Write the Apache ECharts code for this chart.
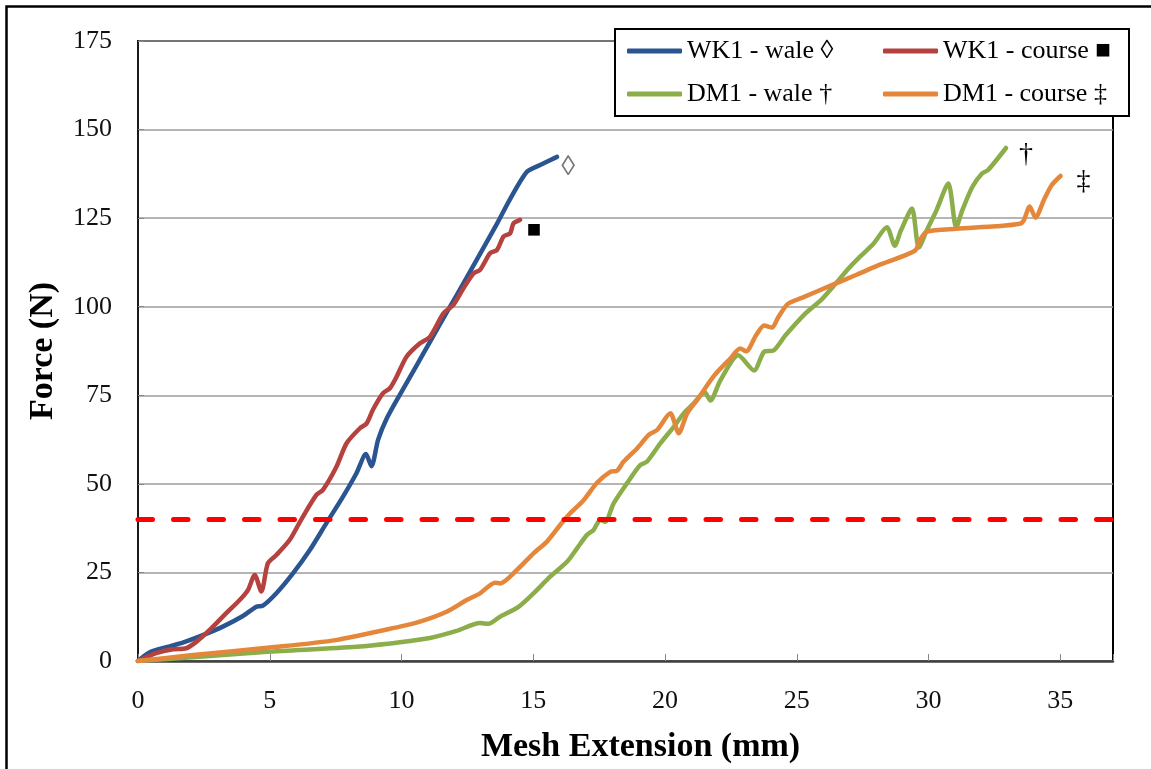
<!DOCTYPE html>
<html>
<head>
<meta charset="utf-8">
<script src="https://cdn.jsdelivr.net/npm/echarts@6/dist/echarts.min.js"></script>
<style>
  html, body { margin: 0; padding: 0; background: #ffffff; }
  #chart { width: 1151px; height: 769px; }
</style>
</head>
<body>
<div id="chart"></div>
<script>
// Force–extension curves for the two meshes, wale and course directions.
const seriesNames = ['WK1 - wale ◊', 'WK1 - course ■', 'DM1 - wale †', 'DM1 - course ‡'];
const seriesColors = ['#2B5590', '#B5423F', '#8BAE4A', '#E5873A'];

// [extension (mm), force (N)]
const wk1Wale = [
  [0, 0], [0.43, 2.4], [1.07, 3.9], [1.7, 5.2], [2.46, 7.3], [3.22, 9.7], [3.98, 12.7],
  [4.49, 15.3], [4.74, 15.6], [5.25, 19.1], [5.88, 24.7], [6.52, 31.3], [7.15, 38.9],
  [7.78, 46.4], [8.29, 53.0], [8.65, 58.4], [8.86, 55.0], [9.11, 62.4], [9.43, 68.3],
  [9.94, 75.2], [10.57, 83.4], [11.08, 90.1], [11.71, 98.3], [12.35, 106.6], [12.98, 114.9],
  [13.62, 123.4], [14.12, 130.4], [14.76, 138.1], [15.26, 140.0], [15.9, 142.3]
];
const wk1Course = [
  [0, 0], [0.69, 2.2], [1.32, 3.3], [1.83, 3.6], [2.21, 5.4], [2.71, 8.7], [3.35, 13.5],
  [3.86, 17.2], [4.17, 20.0], [4.43, 24.3], [4.68, 19.6], [4.93, 27.6], [5.25, 29.9],
  [5.76, 34.2], [6.2, 40.0], [6.77, 46.9], [7.02, 48.3], [7.53, 54.8], [7.91, 61.4],
  [8.42, 65.7], [8.67, 67.0], [8.92, 71.0], [9.3, 75.6], [9.56, 77.0], [9.81, 80.2],
  [10.19, 85.9], [10.7, 89.7], [11.08, 91.5], [11.59, 98.1], [11.97, 100.5], [12.35, 105.2],
  [12.73, 109.4], [12.98, 110.4], [13.36, 115.1], [13.62, 116.0], [13.87, 119.8],
  [14.12, 120.7], [14.25, 123.5], [14.5, 124.5]
];
const dm1Wale = [
  [0, 0], [2.33, 1.2], [4.91, 2.6], [8.3, 4.0], [9.94, 5.3], [11.08, 6.5], [12.09, 8.5],
  [12.98, 10.7], [13.3, 10.5], [13.74, 12.5], [14.44, 15.3], [15.01, 19.1], [15.64, 23.8],
  [16.28, 28.0], [16.66, 31.8], [17.04, 35.6], [17.29, 37.0], [17.54, 39.8], [17.73, 39.3],
  [18.05, 44.5], [18.56, 50.2], [19.06, 55.3], [19.32, 56.3], [19.82, 61.4], [20.33, 66.1],
  [20.71, 69.9], [21.09, 72.7], [21.5, 75.9], [21.72, 73.5], [22.1, 79.2], [22.78, 86.3],
  [23.38, 82.0], [23.76, 87.3], [24.13, 87.7], [24.58, 92.0], [25.34, 98.2], [25.94, 102.0],
  [26.39, 105.8], [26.99, 111.0], [27.44, 114.4], [27.9, 117.7], [28.42, 122.4],
  [28.72, 117.2], [28.95, 121.5], [29.37, 127.7], [29.63, 116.7], [29.93, 121.5],
  [30.3, 127.2], [30.75, 134.8], [31.05, 122.4], [31.28, 127.2], [31.66, 133.8],
  [32.03, 137.6], [32.26, 138.6], [32.94, 144.8]
];
const dm1Course = [
  [0, 0], [2.0, 1.6], [5.0, 3.8], [7.5, 5.9], [9.94, 9.7], [10.7, 11.1], [11.71, 13.9],
  [12.47, 17.2], [12.98, 19.1], [13.55, 22.1], [13.74, 21.9], [14.38, 25.7], [15.01, 30.4],
  [15.52, 33.7], [16.02, 38.4], [16.4, 41.7], [16.91, 45.4], [17.42, 50.3], [17.92, 53.4],
  [18.18, 53.7], [18.43, 56.3], [18.94, 60.0], [19.38, 63.8], [19.7, 65.2], [20.2, 69.9],
  [20.52, 64.3], [20.84, 69.9], [21.22, 73.7], [21.87, 80.6], [22.48, 85.4], [22.85, 88.2],
  [23.08, 87.4], [23.46, 92.0], [23.76, 94.7], [24.06, 94.1], [24.28, 96.8], [24.66, 100.8],
  [25.19, 102.5], [26.24, 105.8], [27.29, 109.1], [28.2, 112.0], [29.48, 115.8],
  [29.7, 119.1], [29.93, 121.2], [31.05, 122.0], [32.56, 122.7], [33.46, 123.4],
  [33.61, 124.3], [33.84, 128.3], [34.06, 125.1], [34.37, 130.0], [34.67, 134.3],
  [35.01, 136.9]
];
const curves = [wk1Wale, wk1Course, dm1Wale, dm1Course];

// Failure symbols placed just past the end of each curve: [mm, N, glyph]
const endMarks = [
  [16.34, 139.1, '◊'],
  [15.05, 121.4, '■'],
  [33.72, 142.9, '†'],
  [35.9, 135.1, '‡']
];

const thresholdForce = 40;
const xMax = 37, xStep = 5;
const yMax = 175, yStep = 25;

const serif = '"Liberation Serif", "Times New Roman", serif';

const lineSeries = curves.map((data, i) => ({
  type: 'line',
  name: seriesNames[i],
  data: data,
  symbol: 'none',
  showSymbol: false,
  smooth: 0.25,
  z: 2,
  lineStyle: { width: 4.5, color: seriesColors[i], cap: 'round', join: 'round' },
  itemStyle: { color: seriesColors[i] },
  emphasis: { disabled: true }
}));

// dashed reference level
lineSeries[3].markLine = {
  silent: true,
  symbol: 'none',
  label: { show: false },
  lineStyle: { color: '#ff0000', width: 5, type: [14.5, 21], cap: 'round', opacity: 1 },
  emphasis: { disabled: true },
  data: [{ yAxis: thresholdForce }]
};

const markSeries = {
  type: 'scatter',
  name: 'endMarks',
  silent: true,
  symbolSize: 1,
  z: 3,
  itemStyle: { color: 'rgba(0,0,0,0)', opacity: 1 },
  emphasis: { disabled: true },
  data: endMarks.map(m => ({
    value: m,
    label: {
      color: m[2] === '◊' ? '#777777' : '#000000',
      fontSize: m[2] === '■' ? 24 : 28
    }
  })),
  label: {
    show: true,
    position: [0, 0],
    align: 'center',
    verticalAlign: 'middle',
    textBorderWidth: 0,
    opacity: 1,
    fontFamily: serif,
    formatter: p => p.value[2]
  }
};

// legend: 2 x 2 layout, one component per entry so the columns line up
const legendLeft = [627, 883, 627, 883];
const legendTop = [38, 38, 81, 81];
const legends = seriesNames.map((n, i) => ({
  data: [n],
  left: legendLeft[i],
  top: legendTop[i],
  padding: 0,
  itemWidth: 55,
  itemHeight: 5,
  itemGap: 0,
  icon: 'roundRect',
  selectedMode: false,
  z: 5,
  textStyle: { fontFamily: serif, fontSize: 26, color: '#000000', lineHeight: 26 }
}));

const chart = echarts.init(document.getElementById('chart'), null, { renderer: 'canvas' });
chart.setOption({
  animation: false,
  backgroundColor: '#ffffff',
  legend: legends,
  graphic: [
    {
      type: 'rect', z: 0, silent: true,
      shape: { x: 6.5, y: 6.5, width: 1180, height: 800 },
      style: { fill: 'none', stroke: '#000000', lineWidth: 2.5 }
    },
    {
      type: 'rect', z: 4, silent: true,
      shape: { x: 615, y: 29, width: 514, height: 87 },
      style: { fill: '#ffffff', stroke: '#000000', lineWidth: 2 }
    }
  ],
  grid: {
    left: 138, top: 41, right: 38, bottom: 108,
    show: true, borderColor: '#000000', borderWidth: 2,
    backgroundColor: 'transparent',
    containLabel: false,
    outerBoundsMode: 'none'
  },
  xAxis: {
    type: 'value',
    min: 0, max: xMax, interval: xStep,
    name: 'Mesh Extension (mm)',
    nameLocation: 'middle',
    nameGap: 69,
    nameTextStyle: {
      fontFamily: serif, fontSize: 34, fontWeight: 'bold', color: '#000000',
      padding: [0, 0, 0, 30]
    },
    axisLine: { show: true, lineStyle: { color: '#404040', width: 2.5 } },
    axisTick: { show: true, inside: true, length: 7, lineStyle: { color: '#888888', width: 1 } },
    axisLabel: {
      margin: 27, fontFamily: serif, fontSize: 26, color: '#111111',
      formatter: v => (v % xStep === 0 ? String(v) : '')
    },
    splitLine: { show: false }
  },
  yAxis: {
    type: 'value',
    min: 0, max: yMax, interval: yStep,
    name: 'Force (N)',
    nameLocation: 'middle',
    nameRotate: 90,
    nameGap: 78,
    nameTextStyle: { fontFamily: serif, fontSize: 34, fontWeight: 'bold', color: '#000000' },
    axisLine: { show: true, lineStyle: { color: '#1a1a1a', width: 2 } },
    axisTick: { show: true, inside: true, length: 6, lineStyle: { color: '#888888', width: 1 } },
    axisLabel: { margin: 26, fontFamily: serif, fontSize: 26, color: '#111111' },
    splitLine: { show: true, lineStyle: { color: '#9c9c9c', width: 1.5 } }
  },
  series: lineSeries.concat([markSeries])
});
</script>
</body>
</html>
